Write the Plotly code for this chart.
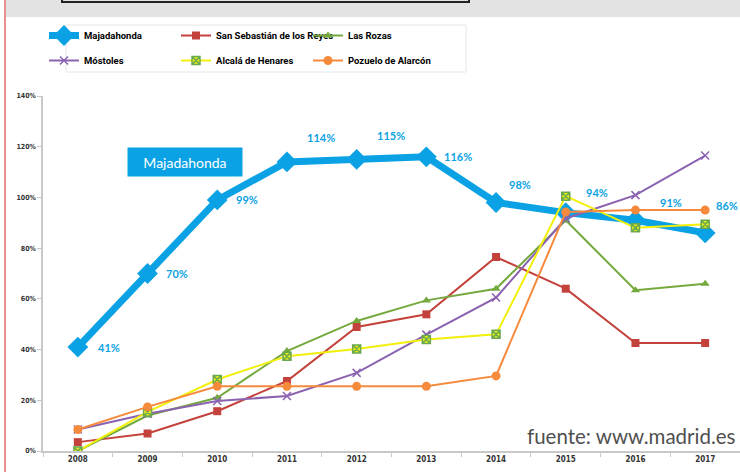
import plotly.graph_objects as go

# ---------------- data ----------------
years = ["2008", "2009", "2010", "2011", "2012", "2013", "2014", "2015", "2016", "2017"]
majadahonda = [41, 70, 99, 114, 115, 116, 98, 94, 91, 86]
san_sebastian = [3.5, 6.9, 15.7, 27.6, 48.9, 53.9, 76.5, 64, 42.6, 42.6]
las_rozas = [0, 14, 21, 39.4, 51.3, 59.4, 64, 91, 63.4, 66]
mostoles = [8.5, 14.7, 19.7, 21.7, 30.8, 45.9, 60.5, 91.7, 100.9, 116.5]
alcala = [0, 15.4, 28.2, 37.4, 40.2, 44, 46, 100.5, 88, 89.4]
pozuelo = [8.5, 17.4, 25.5, 25.5, 25.5, 25.5, 29.6, 94.3, 95, 95]
maj_labels = ["41%", "70%", "99%", "114%", "115%", "116%", "98%", "94%", "91%", "86%"]
y_tick_vals = [0, 20, 40, 60, 80, 100, 120, 140]
y_tick_text = ["0%", "20%", "40%", "60%", "80%", "100%", "120%", "140%"]
source_text = "fuente: www.madrid.es"
series_box_text = "Majadahonda"

# ---------------- geometry helpers ----------------
W, H = 740, 472
PL, PR, PT, PB = 43, 740, 96, 451


def px_x(px):
    return (px - PL) / (PR - PL)


def px_y(py):
    return (PB - py) / (PB - PT)


def bold(s):
    return "<b>%s</b>" % s


BLUE = "#0aa2e4"
NARROW = "Liberation Sans Narrow, Arial Narrow, DejaVu Sans Condensed, sans-serif"

fig = go.Figure()

fig.add_trace(go.Scatter(
    x=years, y=majadahonda, name=bold("Majadahonda"), mode="lines+markers",
    line=dict(color=BLUE, width=7),
    marker=dict(symbol="diamond", size=16, color=BLUE),
    legend="legend",
))
fig.add_trace(go.Scatter(
    x=years, y=san_sebastian, name=bold("San Sebastián de los Reyes"), mode="lines+markers",
    line=dict(color="#c4423c", width=2),
    marker=dict(symbol="square", size=8, color="#c4423c"),
    legend="legend",
))
fig.add_trace(go.Scatter(
    x=years, y=las_rozas, name=bold("Las Rozas"), mode="lines+markers",
    line=dict(color="#74a93e", width=2),
    marker=dict(symbol="triangle-up", size=8, color="#74a93e"),
    legend="legend",
))
fig.add_trace(go.Scatter(
    x=years, y=mostoles, name=bold("Móstoles"), mode="lines+markers",
    line=dict(color="#8a62b0", width=2),
    marker=dict(symbol="x-thin", size=8, color="#8a62b0", line=dict(color="#8a62b0", width=1.5)),
    legend="legend2",
))
fig.add_trace(go.Scatter(
    x=years, y=alcala, name=bold("Alcalá de Henares"), mode="lines+markers",
    line=dict(color="#f2ef0a", width=2),
    marker=dict(symbol="square-x", size=8, color="#e8ec1a", line=dict(color="#6aa84f", width=1.5)),
    legend="legend2",
))
fig.add_trace(go.Scatter(
    x=years, y=pozuelo, name=bold("Pozuelo de Alarcón"), mode="lines+markers",
    line=dict(color="#f68a3c", width=2),
    marker=dict(symbol="circle", size=9, color="#f68a3c"),
    legend="legend2",
))

# data labels for Majadahonda (offsets in pixels: right, up)
label_shift = [(31, 0), (29, 0), (30, 0), (34, 24), (34, 24), (32, 0), (24, 18), (31, 20), (36, 18), (22, 27)]
for i, (v, t, (dx, dy)) in enumerate(zip(majadahonda, maj_labels, label_shift)):
    fig.add_annotation(x=i, y=v, xref="x", yref="y", text=bold(t), showarrow=False,
                       xanchor="center", yanchor="middle",
                       xshift=dx, yshift=dy, font=dict(family="Lato, sans-serif", size=11, color=BLUE))

# series name box
fig.add_annotation(x=px_x(185), y=px_y(162), xref="paper", yref="paper", text=series_box_text,
                   xanchor="center", yanchor="middle",
                   showarrow=False, bgcolor=BLUE, width=108, height=22, borderpad=3,
                   font=dict(family="Lato, sans-serif", size=14, color="white"))

# source
fig.add_annotation(x=px_x(631), y=px_y(436), xref="paper", yref="paper", text=source_text,
                   xanchor="center", yanchor="middle",
                   showarrow=False, font=dict(family="Lato, sans-serif", size=20.5, color="#505050"))

shapes = []
# grey header band
shapes.append(dict(type="rect", xref="paper", yref="paper", x0=px_x(6), x1=px_x(742), y0=px_y(17), y1=px_y(-2),
                   fillcolor="#e3e3e3", line=dict(width=0), layer="below"))
# title box remnant
shapes.append(dict(type="rect", xref="paper", yref="paper", x0=px_x(62), x1=px_x(469), y0=px_y(2), y1=px_y(-6),
                   fillcolor="rgba(0,0,0,0)", line=dict(color="#222", width=2)))
# red vertical line at left
shapes.append(dict(type="line", xref="paper", yref="paper", x0=px_x(5), x1=px_x(5), y0=px_y(472), y1=px_y(0),
                   line=dict(color="#e46a6a", width=1.5)))
# legend box
shapes.append(dict(type="rect", xref="paper", yref="paper", x0=px_x(66), x1=px_x(466), y0=px_y(72), y1=px_y(25),
                   fillcolor="white", line=dict(color="#e6e6e6", width=1), layer="below"))

legend_font = dict(family="Roboto, sans-serif", size=9.5, color="#000")
fig.update_layout(
    width=W, height=H,
    margin=dict(l=PL, r=W - PR, t=PT, b=H - PB),
    paper_bgcolor="white", plot_bgcolor="white",
    shapes=shapes,
    showlegend=True,
    legend=dict(orientation="h", x=px_x(44), y=px_y(21), xanchor="left", yanchor="top",
                entrywidth=87, entrywidthmode="pixels", bgcolor="rgba(0,0,0,0)",
                font=legend_font, itemwidth=30, tracegroupgap=0),
    legend2=dict(orientation="h", x=px_x(44), y=px_y(46), xanchor="left", yanchor="top",
                 entrywidth=87, entrywidthmode="pixels", bgcolor="rgba(0,0,0,0)",
                 font=legend_font, itemwidth=30, tracegroupgap=0),
    xaxis=dict(type="category", showline=True, linecolor="#c8c8c8", linewidth=1.5,
               ticks="outside", tickson="boundaries", ticklen=4, tickcolor="#c8c8c8",
               showgrid=False, zeroline=False,
               tickfont=dict(family=NARROW, size=8, color="#333"), range=[-0.5, 9.5]),
    yaxis=dict(range=[0, 140], tickvals=y_tick_vals, ticktext=[bold(t) for t in y_tick_text],
               showline=True, linecolor="#c8c8c8", linewidth=1.5, ticks="outside", ticklen=4,
               tickcolor="#c8c8c8", showgrid=False, zeroline=False,
               tickfont=dict(family=NARROW, size=7, color="#333")),
    hovermode=False,
)
fig.update_xaxes(ticktext=[bold(y) for y in years], tickvals=years)

fig.write_html("out.html", config={"displayModeBar": False},
               post_script="document.body.style.margin='0';document.body.style.overflow='hidden';")
